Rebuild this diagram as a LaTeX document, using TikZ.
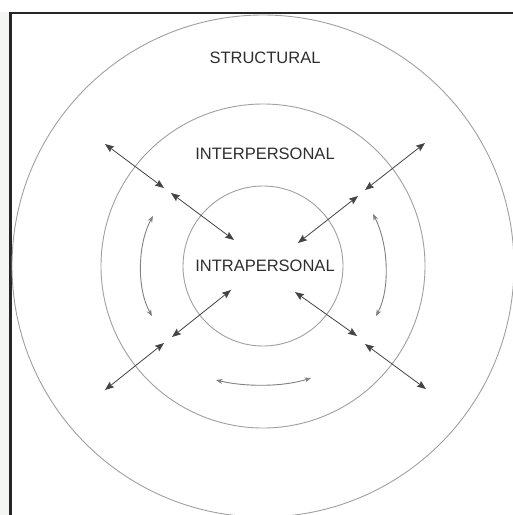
\documentclass[tikz,border=0pt]{standalone}
\usepackage{fontspec}
\setmainfont{Liberation Sans}
\usetikzlibrary{arrows.meta}
\definecolor{ringc}{HTML}{A0A0A0}
\definecolor{arrc}{HTML}{444444}
\definecolor{txtc}{HTML}{2E2E2E}
\definecolor{stripc}{HTML}{F3F6F2}
\tikzset{
  ring/.style={draw=ringc, line width=0.9pt},
  dbl/.style={draw=arrc, line width=0.8pt, {Stealth[length=9pt,width=7pt,inset=1.5pt]}-{Stealth[length=9pt,width=7pt,inset=1.5pt]}},
  arcarr/.style={draw=ringc!80!black, line width=0.9pt, {Stealth[length=6.5pt,width=5pt]}-{Stealth[length=6.5pt,width=5pt]}},
  lbl/.style={text=txtc, font=\fontsize{16.5}{18}\selectfont, inner sep=0pt}
}
\begin{document}
\begin{tikzpicture}[x=1pt,y=-1pt]
\useasboundingbox (0,0) rectangle (513,515);
\fill[white] (0,0) rectangle (513,515);
\fill[stripc] (0,12) rectangle (9,515);
\begin{scope}
\clip (0,0) rectangle (513,515);
\draw[black!85, line width=2.6pt] (10.5,13) rectangle (530,530);
\coordinate (c) at (263,266);
\draw[ring] (c) circle[radius=80];
\draw[ring] (c) circle[radius=162];
\draw[ring] (c) circle[radius=251];
\end{scope}
\node[lbl] (s) at (265,58) {STRUCTURAL};
\node[lbl] (inter) at (265,154) {INTERPERSONAL};
\node[lbl] (intra) at (265,266) {INTRAPERSONAL};
% diagonal arrows
\coordinate (a1) at (105,144); \coordinate (a2) at (164,188);
\coordinate (a3) at (171,193); \coordinate (a4) at (234,240);
\coordinate (b1) at (425,143); \coordinate (b2) at (365,190);
\coordinate (b3) at (358,196); \coordinate (b4) at (298,243);
\coordinate (d1) at (105,390); \coordinate (d2) at (164,343);
\coordinate (d3) at (172,337); \coordinate (d4) at (231,290);
\coordinate (e1) at (426,389); \coordinate (e2) at (365,344);
\coordinate (e3) at (357,336); \coordinate (e4) at (295,292);
\draw[dbl] (a1) -- (a2);
\draw[dbl] (a3) -- (a4);
\draw[dbl] (b1) -- (b2);
\draw[dbl] (b3) -- (b4);
\draw[dbl] (d1) -- (d2);
\draw[dbl] (d3) -- (d4);
\draw[dbl] (e1) -- (e2);
\draw[dbl] (e3) -- (e4);
% curved arrows
\coordinate (l1) at (153,216); \coordinate (l2) at (152,316);
\coordinate (r1) at (373,214); \coordinate (r2) at (376,316);
\coordinate (m1) at (216,380); \coordinate (m2) at (311,378);
\draw[arcarr] (l1) .. controls (137,245) and (137,290) .. (l2);
\draw[arcarr] (r1) .. controls (389,245) and (390,290) .. (r2);
\draw[arcarr] (m1) .. controls (245,387) and (283,387) .. (m2);
\end{tikzpicture}
\end{document}
